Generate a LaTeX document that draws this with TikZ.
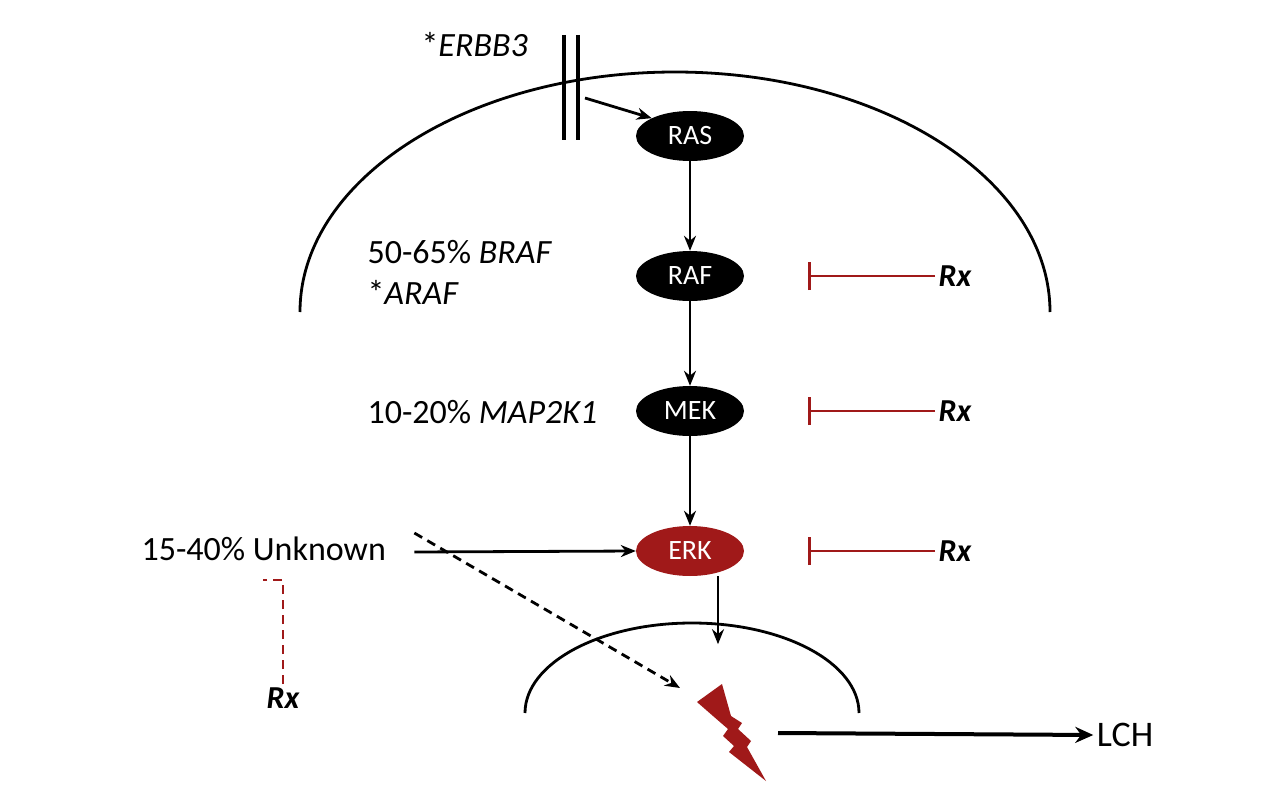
\documentclass[tikz,border=0pt]{standalone}
\usepackage{fontspec}
\setmainfont{Carlito}
\usetikzlibrary{arrows.meta,shapes.geometric}
\definecolor{darkred}{RGB}{160,25,25}
\tikzset{
  prot/.style={ellipse, fill=black, text=white, minimum width=108pt, minimum height=50pt, inner sep=1pt, font=\fontsize{28}{30}\selectfont},
  lbl/.style={anchor=west, font=\fontsize{34}{36}\selectfont},
  act/.style={-{Stealth[length=15pt,width=12pt]}, line width=2.8pt},
  inh/.style={-{Bar[width=28pt]}, line width=2.8pt, draw=darkred},
  rx/.style={font=\fontsize{32}{34}\selectfont\bfseries\itshape},
  dsh/.style={dash pattern=on 9pt off 6pt}
}
\begin{document}
\begin{tikzpicture}[x=1pt, y=-1pt]
	\useasboundingbox (0,0) rectangle (1288,800);
	%membranes
	\draw[line width=2.8pt] (300,312) arc[start angle=180, end angle=360, x radius=375, y radius=240];
	\draw[line width=2.8pt] (525,713) arc[start angle=180, end angle=360, x radius=167, y radius=90];
	\draw[line width=4pt] (564,35) -- (564,140);
	\draw[line width=4pt] (578,35) -- (578,140);
	\coordinate (rec) at (585,98);

	%proteins
	\node[prot] (RAS) at (690,136) {RAS};
	\node[prot] (RAF) at (690,276) {RAF};
	\node[prot] (MEK) at (690,411) {MEK};
	\node[prot, fill=darkred] (ERK) at (690,551) {ERK};

	\draw[act] (rec) -- (RAS.north west);
	\draw[act] (RAS) -- (RAF);
	\draw[act] (RAF) -- (MEK);
	\draw[act] (MEK) -- (ERK);

	%labels
	\node[lbl] (erbb) at (418,45) {*\textit{ERBB3}};
	\node[lbl] (braf) at (364,252) {50-65\% \textit{BRAF}};
	\node[lbl] (araf) at (364,292) {*\textit{ARAF}};
	\node[lbl] (map) at (364,412) {10-20\% \textit{MAP2K1}};
	\node[lbl] (unk) at (138,549) {15-40\% Unknown};

	%drugs
	\foreach \p/\y in {RAF/276, MEK/411, ERK/551}{
		\node[rx] (rx\p) at (955,\y) {Rx};
		\draw[inh] (rx\p.west) -- (808,\y);
	}
	\node[rx] (rxU) at (283,698) {Rx};
	\draw[darkred, line width=2.8pt, dsh] (rxU.north) -- (283,580) -- (263,580);

	%nucleus
	\fill[darkred] (697,702) -- (722,684) -- (731,716) -- (742,723) -- (738,729) -- (751,741) -- (747,747) -- (766,781)
		-- (729,752) -- (734,746) -- (723,736) -- (728,729) -- (713,716) -- cycle;
	\draw[act] ([xshift=25pt,yshift=-3pt]unk.east) -- (ERK.west);
	\draw[act, dsh] ([xshift=25pt,yshift=16pt]unk.east) -- (680,688);
	\draw[act] ([xshift=28pt]ERK.south) -- ++(0,68);
	\node[font=\fontsize{36}{38}\selectfont] (LCH) at (1125,735) {LCH};
	\draw[-{Stealth[length=18pt,width=16pt]}, line width=4pt] (778,733) -- (LCH.west);
\end{tikzpicture}
\end{document}
